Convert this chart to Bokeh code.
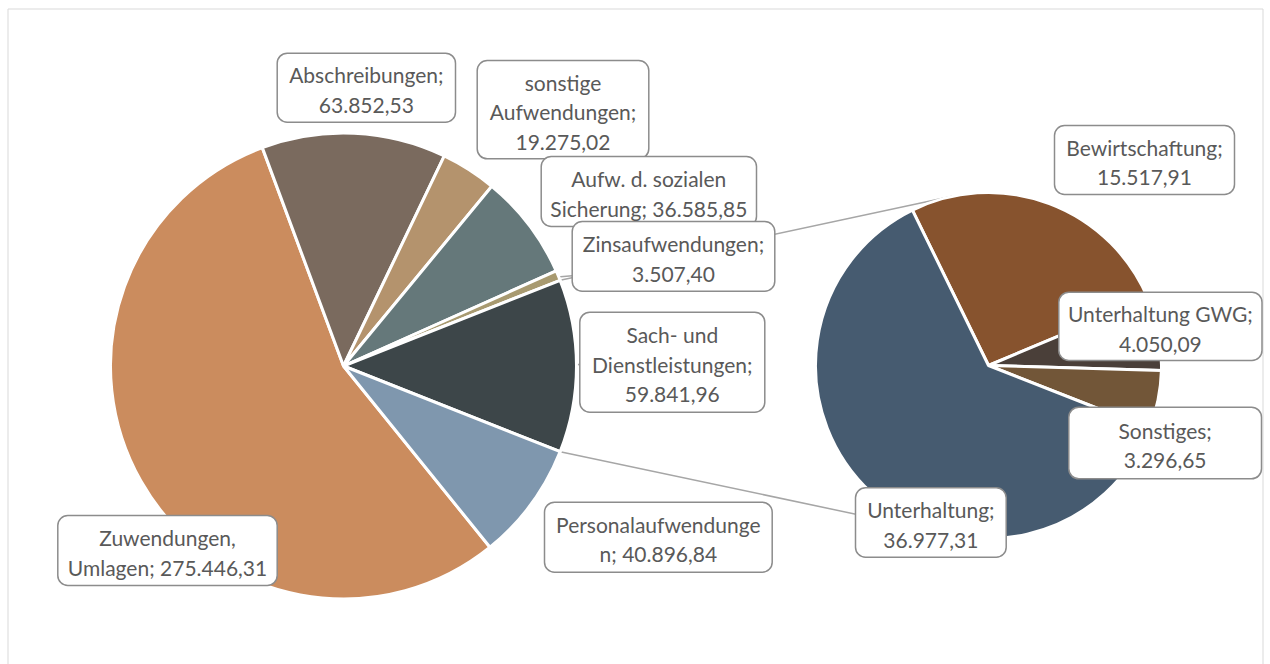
import math
from bokeh.plotting import figure
from bokeh.models import ColumnDataSource, Range1d
from bokeh.core.properties import value
from bokeh.embed import file_html
from bokeh.resources import INLINE

# ---------------- data ----------------
main_names = ["Zuwendungen, Umlagen", "Abschreibungen", "sonstige Aufwendungen",
              "Aufw. d. sozialen Sicherung", "Zinsaufwendungen",
              "Sach- und Dienstleistungen", "Personalaufwendungen"]
main_values = [275446.31, 63852.53, 19275.02, 36585.85, 3507.40, 59841.96, 40896.84]
main_colors = ["#CB8C5E", "#7A6A5E", "#B4936D", "#65787A", "#A89A70", "#3D4649", "#7F97AE"]
other_index = 5  # "Sach- und Dienstleistungen" is split in the second pie

sub_names = ["Bewirtschaftung", "Unterhaltung GWG", "Sonstiges", "Unterhaltung"]
sub_values = [15517.91, 4050.09, 3296.65, 36977.31]
sub_colors = ["#87532E", "#4A3F39", "#725638", "#465B70"]

# ---------------- layout (screen pixels) ----------------
W, H = 1270, 664
def X(sx): return sx
def Y(sy): return H - sy

main_c = (X(343), Y(365.5)); main_r = 233
sub_c = (X(988), Y(365)); sub_r = 173
sub_start_deg = 116.1

# label boxes [left, right, top, bottom] and wrap widths (characters)
main_boxes = [(57.3, 276.7, 515, 585), (276.7, 455, 52.7, 121.7), (476.7, 648.3, 60, 158.3),
              (540.7, 756, 156, 226), (571.7, 774.3, 221, 290.7), (579.3, 764.3, 311.7, 411.7),
              (544, 771.7, 501.7, 571.7)]
main_wrap = [20, 16, 13, 20, 17, 17, 19]
sub_boxes = [(1054, 1234, 125, 194), (1058.3, 1261.5, 291.7, 360),
             (1068.3, 1261, 406.7, 478.3), (855, 1005.7, 487.3, 556.7)]
sub_wrap = [16, 17, 10, 13]

TEXT_COLOR = "#595959"
BOX_LINE = "#8C8C8C"
SERIES_LINE = "#A6A6A6"
FONT = "Lato"
FONT_SIZE = "21px"

def de(v):
    s = f"{v:,.2f}"
    return s.replace(",", "X").replace(".", ",").replace("X", ".")

def wrap(text, width):
    lines, cur = [], ""
    for word in text.split(" "):
        while len(word) > width:
            if cur:
                lines.append(cur); cur = ""
            lines.append(word[:width]); word = word[width:]
        cand = word if not cur else cur + " " + word
        if len(cand) <= width:
            cur = cand
        else:
            lines.append(cur); cur = word
    if cur:
        lines.append(cur)
    return "\n".join(lines)

# ---------------- angles ----------------
tot = sum(main_values)
spans = [v / tot * 2 * math.pi for v in main_values]
theta0 = sum(spans[:other_index]) + spans[other_index] / 2
m_start, m_end = [], []
t = theta0
for a in spans:
    m_start.append(t - a); m_end.append(t); t -= a

stot = sum(sub_values)
sspans = [v / stot * 2 * math.pi for v in sub_values]
s_start, s_end = [], []
t = math.radians(sub_start_deg)
for a in sspans:
    s_start.append(t - a); s_end.append(t); t -= a

p = figure(width=W, height=H, x_range=Range1d(0, W), y_range=Range1d(0, H),
           output_backend="svg", toolbar_location=None, x_axis_type=None, y_axis_type=None,
           min_border=0, outline_line_color=None, background_fill_color="white",
           border_fill_color="white")
p.grid.visible = False

# chart frame
p.line([7.5, 7.5, 1262.5, 1262.5], [-20, Y(8.5), Y(8.5), -20], line_color="#D9D9D9", line_width=1)

# series lines: from the "other" slice corners, tangent to the secondary pie
cx, cy = main_c
sx0, sy0 = sub_c
ang_top = m_end[other_index]
ang_bot = m_start[other_index]
xs, ys = [], []
for ang, sign in [(ang_top, 1), (ang_bot, -1)]:
    px, py = cx + main_r * math.cos(ang), cy + main_r * math.sin(ang)
    dx, dy = sx0 - px, sy0 - py
    d = math.hypot(dx, dy)
    base = math.atan2(dy, dx)
    off = math.asin(sub_r / d)
    direc = base + sign * off
    L = math.sqrt(d * d - sub_r * sub_r)
    xs.append([px, px + L * math.cos(direc)])
    ys.append([py, py + L * math.sin(direc)])
p.multi_line(xs, ys, line_color=SERIES_LINE, line_width=1.5)

# leader lines for labels close to the pie
lx, ly = [], []
for i in (4, 5):
    mid = (m_start[i] + m_end[i]) / 2
    bx = X(main_boxes[i][0])
    by = Y((main_boxes[i][2] + main_boxes[i][3]) / 2)
    ex = cx + (main_r - 4) * math.cos(mid)
    ey = cy + (main_r - 4) * math.sin(mid)
    lx.append([ex, bx]); ly.append([ey, min(max(ey, by - 2), by + 2) if i == 5 else ey + 1.5])
p.multi_line(lx, ly, line_color=SERIES_LINE, line_width=1.5)

# pies
main_src = ColumnDataSource(dict(start=m_start, end=m_end, color=main_colors))
p.wedge(x=cx, y=cy, radius=main_r, start_angle="start", end_angle="end", direction="anticlock",
        fill_color="color", line_color="white", line_width=3, source=main_src)
sub_src = ColumnDataSource(dict(start=s_start, end=s_end, color=sub_colors))
p.wedge(x=sx0, y=sy0, radius=sub_r, start_angle="start", end_angle="end", direction="anticlock",
        fill_color="color", line_color="white", line_width=3, source=sub_src)

# labels
boxes = main_boxes + sub_boxes
texts = [wrap(f"{n}; {de(v)}", w) for n, v, w in zip(main_names, main_values, main_wrap)] + \
        [wrap(f"{n}; {de(v)}", w) for n, v, w in zip(sub_names, sub_values, sub_wrap)]
lab = ColumnDataSource(dict(
    left=[X(b[0]) for b in boxes], right=[X(b[1]) for b in boxes],
    top=[Y(b[2]) for b in boxes], bottom=[Y(b[3]) for b in boxes],
    tx=[X((b[0] + b[1]) / 2) for b in boxes], ty=[Y((b[2] + b[3]) / 2 + 2) for b in boxes],
    text=texts))
p.quad(left="left", right="right", top="top", bottom="bottom", source=lab,
       fill_color="white", line_color=BOX_LINE, line_width=1.5, border_radius=10)
p.text(x="tx", y="ty", text="text", source=lab, text_align="center", text_baseline="middle",
       text_font=value(FONT), text_font_size=FONT_SIZE, text_color=TEXT_COLOR,
       text_line_height=1.18)

open("out.html", "w").write(file_html(p, INLINE))
